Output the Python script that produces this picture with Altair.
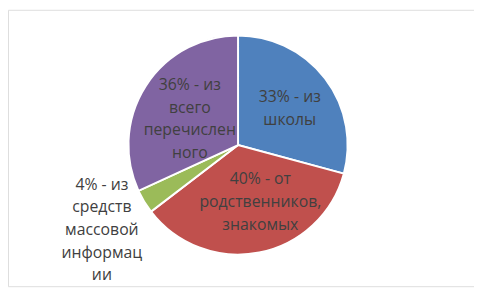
import altair as alt
import pandas as pd

labels = [
    "33% - из\nшколы",
    "40% - от\nродственников,\nзнакомых",
    "4% - из\nсредств\nмассовой\nинформац\nии",
    "36% - из\nвсего\nперечислен\nного",
]
values = [33, 40, 4, 36]
colors = ["#4F81BD", "#C0504D", "#9BBB59", "#8064A2"]

df = pd.DataFrame({"label": labels, "value": values, "order": list(range(len(values)))})

cx, cy = 233, 137
line_h = 23

arcs = alt.Chart(df).mark_arc(radius=111, stroke="white", strokeWidth=2).encode(
    theta=alt.Theta("value:Q", stack=True),
    order=alt.Order("order:Q"),
    color=alt.Color("label:N", scale=alt.Scale(domain=labels, range=colors), legend=None),
    x=alt.value(cx),
    y=alt.value(cy),
)

text = alt.Chart(df).transform_window(
    cum="sum(value)", sort=[alt.SortField("order")], frame=[None, 0]
).transform_joinaggregate(
    total="sum(value)"
).transform_calculate(
    mid="(datum.cum - datum.value / 2) / datum.total * 2 * PI",
    r="datum.value < 10 ? 161 : (datum.value > 38 ? 60 : (datum.value > 34 ? 58 : 66))",
    n="length(split(datum.label, '\\n'))",
    dy="datum.value > 38 ? -1 : (datum.value > 34 ? 5 : 3)",
).transform_calculate(
    px=f"{cx} + datum.r * sin(datum.mid) + (datum.value > 38 ? 11 : 0)",
    py=f"{cy} - datum.r * cos(datum.mid) - (datum.n - 1) * {line_h} / 2 + datum.dy",
).mark_text(
    lineBreak="\n", lineHeight=line_h, fontSize=16, font="Open Sans", color="#404040",
    align="center", baseline="middle",
).encode(
    text="label:N",
    x=alt.X("px:Q", scale=None),
    y=alt.Y("py:Q", scale=None),
)

chart = alt.layer(arcs, text).properties(
    width=472, height=280, padding=0
).configure_view(stroke="#d9d9d9", strokeWidth=1).configure(background="white")

chart.save("out.html", embed_options={"renderer": "svg", "actions": False})
